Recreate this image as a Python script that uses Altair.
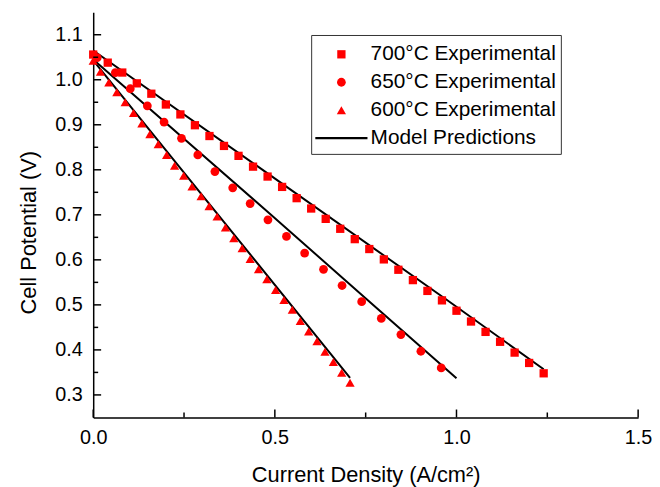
import altair as alt
import pandas as pd

# ---- data ----
i700 = [0.00, 0.04, 0.08, 0.12, 0.16, 0.20, 0.24, 0.28, 0.32, 0.36, 0.40, 0.44, 0.48, 0.52, 0.56, 0.60,
        0.64, 0.68, 0.72, 0.76, 0.80, 0.84, 0.88, 0.92, 0.96, 1.00, 1.04, 1.08, 1.12, 1.16, 1.20, 1.24]
v700 = [1.056, 1.038, 1.016, 0.992, 0.969, 0.945, 0.923, 0.899, 0.875, 0.853, 0.831, 0.807, 0.785, 0.762,
        0.737, 0.714, 0.691, 0.669, 0.646, 0.624, 0.601, 0.578, 0.555, 0.531, 0.510, 0.487, 0.463, 0.440,
        0.418, 0.394, 0.371, 0.348]

i650 = [0.011, 0.061, 0.102, 0.149, 0.195, 0.243, 0.288, 0.335, 0.384, 0.432, 0.481, 0.532, 0.582, 0.634,
        0.685, 0.739, 0.793, 0.847, 0.902, 0.958]
v650 = [1.049, 1.016, 0.980, 0.942, 0.906, 0.870, 0.833, 0.796, 0.760, 0.725, 0.689, 0.652, 0.615, 0.579,
        0.543, 0.507, 0.470, 0.434, 0.397, 0.360]

i600 = [0.000, 0.020, 0.043, 0.065, 0.088, 0.111, 0.134, 0.156, 0.179, 0.202, 0.224, 0.249, 0.272, 0.297,
        0.319, 0.341, 0.364, 0.387, 0.410, 0.432, 0.455, 0.478, 0.502, 0.525, 0.548, 0.570, 0.593, 0.616,
        0.638, 0.661, 0.684, 0.707]
v600 = [1.042, 1.018, 0.994, 0.972, 0.950, 0.926, 0.903, 0.879, 0.857, 0.833, 0.809, 0.787, 0.763, 0.741,
        0.719, 0.696, 0.672, 0.648, 0.626, 0.602, 0.579, 0.557, 0.533, 0.511, 0.489, 0.464, 0.441, 0.419,
        0.396, 0.373, 0.349, 0.327]

model_i_700 = [0.0, 0.48, 0.97, 1.24]
model_v_700 = [1.065, 0.792, 0.513, 0.357]
model_i_650 = [0.0, 0.48, 0.752, 1.0]
model_v_650 = [1.045, 0.707, 0.513, 0.337]
model_i_600 = [0.0, 0.325, 0.707]
model_v_600 = [1.043, 0.719, 0.338]

series_names = ["700°C Experimental", "650°C Experimental", "600°C Experimental", "Model Predictions"]
series_shapes = ["square", "circle", "triangle-up", "M-5.4,-0.22H5.4V0.22H-5.4Z"]
series_colors = ["#ff0000", "#ff0000", "#ff0000", "#000000"]
series_sizes = [70, 95, 125, 64]

x_major = [0.0, 0.5, 1.0, 1.5]
x_minor = [0.25, 0.75, 1.25]
y_major = [0.3, 0.4, 0.5, 0.6, 0.7, 0.8, 0.9, 1.0, 1.1]
y_minor = [0.35, 0.45, 0.55, 0.65, 0.75, 0.85, 0.95, 1.05]

# ---- tables ----
pts = pd.concat([
    pd.DataFrame({"I": i700, "V": v700, "Series": series_names[0]}),
    pd.DataFrame({"I": i650, "V": v650, "Series": series_names[1]}),
    pd.DataFrame({"I": i600, "V": v600, "Series": series_names[2]}),
])
lines = pd.concat([
    pd.DataFrame({"I": model_i_700, "V": model_v_700, "T": "700"}),
    pd.DataFrame({"I": model_i_650, "V": model_v_650, "T": "650"}),
    pd.DataFrame({"I": model_i_600, "V": model_v_600, "T": "600"}),
])

W, H = 550, 409
FONT = "Liberation Sans"

xs = alt.Scale(domain=[0, 1.5], nice=False, zero=False)
ys = alt.Scale(domain=[0.25, 1.15], nice=False, zero=False)

legend = alt.Legend(
    title=" ", titleFontSize=2, titlePadding=2,
    orient="none", legendX=220, legendY=23,
    fillColor="white", strokeColor="#333333", padding=5,
    labelFont=FONT, labelFontSize=21, labelColor="black", labelLimit=400,
    symbolStrokeWidth=0, symbolOffset=15, labelOffset=19,
    rowPadding=6.2,
)

x_axis = alt.Axis(values=x_major, format=".1f", ticks=False, tickSize=0, grid=False,
                  domainColor="black", domainWidth=1.5, labelFlush=False,
                  labelFont=FONT, labelFontSize=20, labelColor="black", labelPadding=10,
                  title="Current Density (A/cm²)", titleFont=FONT, titleFontSize=22,
                  titleFontWeight="normal", titleColor="black",
                  titleY=65, titleBaseline="alphabetic")
y_axis = alt.Axis(values=y_major, format=".1f", ticks=False, tickSize=0, grid=False,
                  domainColor="black", domainWidth=1.5, labelFlush=False,
                  labelFont=FONT, labelFontSize=20, labelColor="black", labelPadding=11,
                  title="Cell Potential (V)", titleFont=FONT, titleFontSize=22,
                  titleFontWeight="normal", titleColor="black",
                  titleX=-65, titleY=222, titleAngle=270, titleBaseline="middle", titleAlign="center")

X = alt.X("I:Q", scale=xs, axis=x_axis)
Y = alt.Y("V:Q", scale=ys, axis=y_axis)

points = alt.Chart(pts).mark_point(filled=True, opacity=1).encode(
    x=X, y=Y,
    color=alt.Color("Series:N", scale=alt.Scale(domain=series_names, range=series_colors), legend=legend),
    shape=alt.Shape("Series:N", scale=alt.Scale(domain=series_names, range=series_shapes), legend=legend),
    size=alt.Size("Series:N", scale=alt.Scale(domain=series_names, range=series_sizes), legend=legend),
)

model = alt.Chart(lines).mark_line(color="black", strokeWidth=2).encode(
    x=X, y=Y, detail="T:N",
)

ytick_major = alt.Chart(pd.DataFrame({"V": y_major})).mark_rule(color="black", strokeWidth=1.5).encode(
    y=Y, x=alt.value(0), x2=alt.value(8))
ytick_minor = alt.Chart(pd.DataFrame({"V": y_minor})).mark_rule(color="black", strokeWidth=1.5).encode(
    y=Y, x=alt.value(0), x2=alt.value(5))
xtick_major = alt.Chart(pd.DataFrame({"I": x_major})).mark_rule(color="black", strokeWidth=1.5).encode(
    x=X, y=alt.value(H), y2=alt.value(H - 8))
xtick_minor = alt.Chart(pd.DataFrame({"I": x_minor})).mark_rule(color="black", strokeWidth=1.5).encode(
    x=X, y=alt.value(H), y2=alt.value(H - 5))

chart = alt.layer(model, points, ytick_major, ytick_minor, xtick_major, xtick_minor).properties(
    width=W, height=H,
    autosize=alt.AutoSizeParams(type="none"),
    padding={"left": 86, "top": 2, "right": 14, "bottom": 72},
    background="white",
).configure_view(stroke=None)

chart.save("out.html", embed_options={"renderer": "svg", "actions": False})
